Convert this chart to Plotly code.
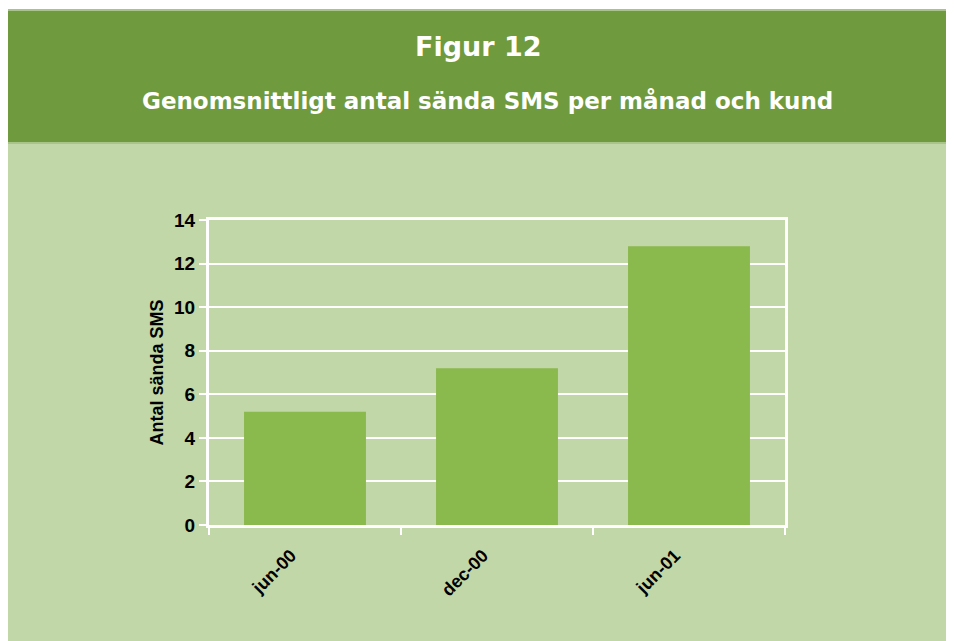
import plotly.graph_objects as go

categories = ["jun-00", "dec-00", "jun-01"]
values = [5.2, 7.2, 12.8]
y_ticks = [0, 2, 4, 6, 8, 10, 12, 14]

title_main = "Figur 12"
title_sub = "Genomsnittligt antal sända SMS per månad och kund"
y_title = "Antal sända SMS"

OFF = 8  # page body margin
W, H = 954 - OFF, 641 - OFF
L, T = 209 - OFF, 220 - OFF
pw, ph = 576, 305
R, B = W - L - pw, H - T - ph

def px(X):  # page pixel -> paper x
    return (X - OFF - L) / pw

def py(Y):  # page pixel -> paper y
    return (T + ph - (Y - OFF)) / ph

DARK = "#6F9A3E"
LIGHT = "#C1D7A8"
BAR = "#8AB94D"

fig = go.Figure(go.Bar(
    x=categories, y=values,
    marker=dict(color=BAR, line=dict(width=0)),
))

shapes = [
    dict(type="rect", xref="paper", yref="paper", x0=px(3), x1=px(970), y0=py(660), y1=py(143),
         fillcolor=LIGHT, line=dict(width=0), layer="below"),
    dict(type="rect", xref="paper", yref="paper", x0=px(3), x1=px(970), y0=py(143), y1=py(10),
         fillcolor=DARK, line=dict(color="#A9C48A", width=2), layer="below"),
]

TF = "DejaVu Sans, Liberation Sans, Arial"
annotations = [
    dict(text="<b>" + title_main + "</b>", xref="paper", yref="paper", x=px(478), y=py(47),
         showarrow=False, font=dict(size=27, color="white", family=TF),
         xanchor="center", yanchor="middle"),
    dict(text="<b>" + title_sub + "</b>", xref="paper", yref="paper", x=px(487), y=py(101),
         showarrow=False, font=dict(size=23, color="white", family=TF),
         xanchor="center", yanchor="middle"),
]

fig.update_layout(
    width=W, height=H,
    margin=dict(l=L, r=R, t=T, b=B),
    paper_bgcolor="white",
    plot_bgcolor=LIGHT,
    shapes=shapes,
    annotations=annotations,
    bargap=0.365,
    showlegend=False,
    font=dict(family="Liberation Sans, Arial", color="black"),
)

fig.update_xaxes(
    type="category",
    showline=True, linecolor="white", linewidth=3, mirror=True,
    ticks="outside", tickson="boundaries", ticklen=7, tickcolor="white", tickwidth=2,
    tickangle=-45,
    ticklabelshift=-14, ticklabelstandoff=10,
    tickfont=dict(size=18, family="Liberation Sans, Arial", color="black", weight="bold"),
    showgrid=False,
)

fig.update_yaxes(
    range=[0, 14], tickvals=y_ticks,
    showline=True, linecolor="white", linewidth=3, mirror=True,
    ticks="outside", ticklen=7, tickcolor="white", tickwidth=2,
    showgrid=True, gridcolor="white", gridwidth=2,
    zeroline=False,
    tickfont=dict(size=19, family="Liberation Sans, Arial", color="black", weight="bold"),
    title=dict(text="<b>" + y_title + "</b>", font=dict(size=18, family="Liberation Sans, Arial", color="black"), standoff=6),
)

fig.write_html("out.html")
